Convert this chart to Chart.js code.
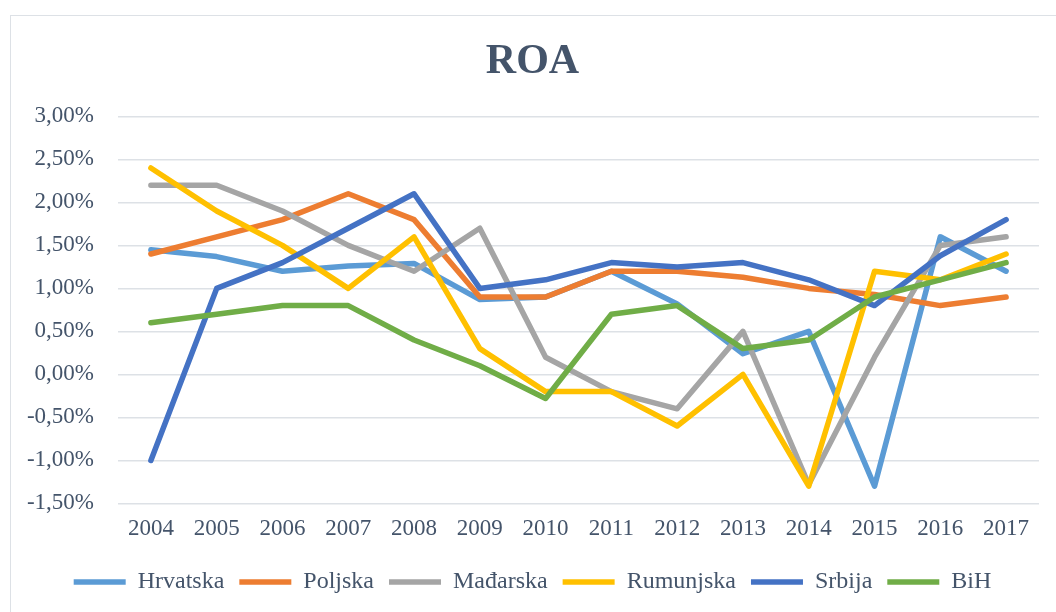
<!DOCTYPE html>
<html>
<head>
<meta charset="utf-8">
<script src="https://cdn.jsdelivr.net/npm/chart.js@4"></script>
<style>
  html, body { margin: 0; padding: 0; background: #fff; overflow: hidden; }
  #frame { position: absolute; left: 10px; top: 15px; width: 1100px; height: 700px; border: 1px solid #DDE1E6; }
  #wrap { position: absolute; left: 0; top: 0; width: 1056px; height: 612px; }
</style>
</head>
<body>
<div id="frame"></div>
<div id="wrap"><canvas id="roa-chart"></canvas></div>
<script>
const years = ['2004', '2005', '2006', '2007', '2008', '2009', '2010', '2011', '2012', '2013', '2014', '2015', '2016', '2017'];
const hrvatska = [1.45, 1.37, 1.2, 1.26, 1.29, 0.87, 0.9, 1.2, 0.82, 0.24, 0.5, -1.3, 1.6, 1.2];
const poljska = [1.4, 1.6, 1.8, 2.1, 1.8, 0.9, 0.9, 1.2, 1.2, 1.13, 1.0, 0.93, 0.8, 0.9];
const madjarska = [2.2, 2.2, 1.9, 1.5, 1.2, 1.7, 0.2, -0.2, -0.4, 0.5, -1.28, 0.2, 1.5, 1.6];
const rumunjska = [2.4, 1.9, 1.5, 1.0, 1.6, 0.3, -0.2, -0.2, -0.6, 0.0, -1.3, 1.2, 1.1, 1.4];
const srbija = [-1.0, 1.0, 1.3, 1.7, 2.1, 1.0, 1.1, 1.3, 1.25, 1.3, 1.1, 0.8, 1.38, 1.8];
const bih = [0.6, 0.7, 0.8, 0.8, 0.4, 0.1, -0.28, 0.7, 0.8, 0.3, 0.4, 0.9, 1.1, 1.3];

const seriesNames = ['Hrvatska', 'Poljska', 'Mađarska', 'Rumunjska', 'Srbija', 'BiH'];
const seriesData = [hrvatska, poljska, madjarska, rumunjska, srbija, bih];
const seriesColors = ['#5B9BD5', '#ED7D31', '#A5A5A5', '#FFC000', '#4472C4', '#70AD47'];

const textColor = '#44546A';
const serif = "'Liberation Serif', 'Times New Roman', serif";

document.addEventListener('DOMContentLoaded', () => {
  const ctx = document.getElementById('roa-chart').getContext('2d');

  const datasets = seriesNames.map((name, i) => ({
    label: name,
    data: seriesData[i],
    borderColor: seriesColors[i],
    backgroundColor: seriesColors[i],
    borderWidth: 5.5,
    borderCapStyle: 'round',
    borderJoinStyle: 'round',
    pointRadius: 0,
    pointStyle: 'line',
    tension: 0,
    // later series on top, like Excel
    order: seriesNames.length - i
  }));

  new Chart(ctx, {
    type: 'line',
    data: { labels: years, datasets: datasets },
    options: {
      responsive: true,
      maintainAspectRatio: false,
      animation: false,
      layout: { padding: { left: 26, right: 17, top: 0, bottom: 8 } },
      plugins: {
        title: {
          display: true,
          text: 'ROA',
          color: textColor,
          font: { family: serif, size: 42, weight: 'bold' },
          padding: { top: 37, bottom: 29 }
        },
        legend: {
          position: 'bottom',
          labels: {
            usePointStyle: true,
            pointStyleWidth: 52,
            color: textColor,
            font: { family: serif, size: 24 },
            padding: 15,
            sort: (a, b) => a.datasetIndex - b.datasetIndex
          }
        },
        tooltip: { enabled: false }
      },
      scales: {
        x: {
          offset: true,
          grid: { display: false, drawTicks: false },
          border: { display: false },
          ticks: { color: textColor, font: { family: serif, size: 23 }, padding: 12, maxRotation: 0 }
        },
        y: {
          min: -1.5,
          max: 3,
          afterFit: (scale) => { scale.width = 92; },
          grid: { color: '#DDE1E6', lineWidth: 1.5, drawTicks: false },
          border: { display: false },
          ticks: {
            stepSize: 0.5,
            padding: 24,
            color: textColor,
            font: { family: serif, size: 23 },
            callback: (value) => value.toFixed(2).replace('.', ',') + '%'
          }
        }
      }
    }
  });
});
</script>
</body>
</html>
